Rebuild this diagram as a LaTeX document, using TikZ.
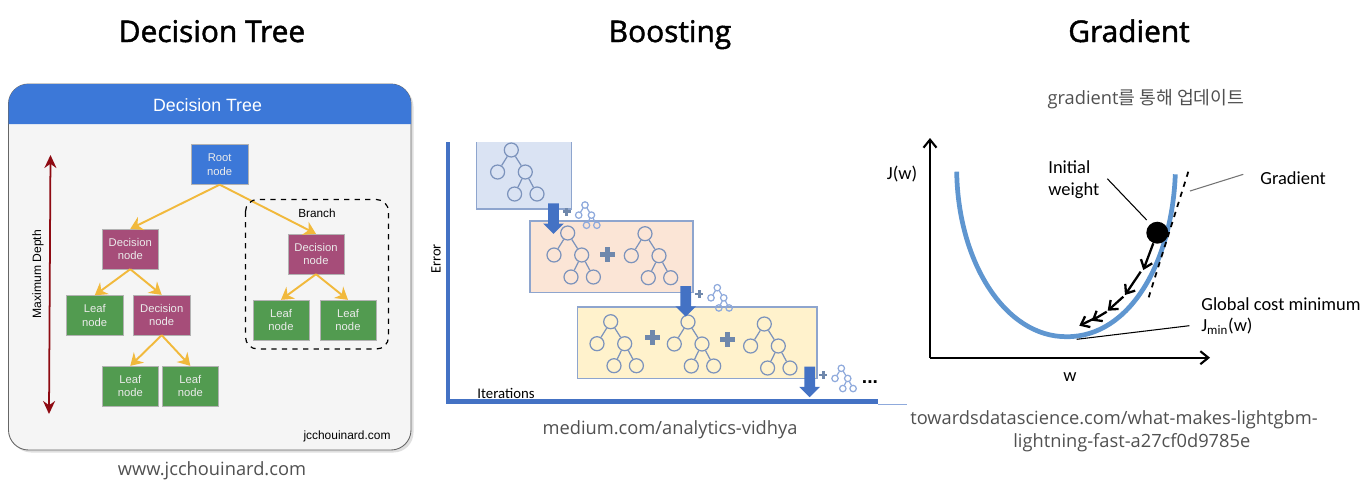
\documentclass[tikz,border=0pt]{standalone}
\usepackage{fontspec}
\setmainfont{Liberation Sans}
\newfontfamily\capfont{Open Sans}
\newfontfamily\titlefont[FakeBold=1.6]{Open Sans}
\newfontfamily\cjk{Noto Sans CJK KR}
\newfontfamily\labfont{Carlito}
\usetikzlibrary{arrows.meta,shapes.arrows,shadows}
\definecolor{headblue}{HTML}{3C78D8}
\definecolor{decpurple}{HTML}{A64D79}
\definecolor{leafgreen}{HTML}{529B50}
\definecolor{edgeorange}{HTML}{F1B93C}
\definecolor{depthred}{HTML}{8E0A12}
\definecolor{axisblue}{HTML}{4472C4}
\definecolor{curveblue}{HTML}{5F96D0}
\definecolor{plusgray}{HTML}{6F88AC}
\definecolor{treeline}{HTML}{7C93BC}
\definecolor{treelight}{HTML}{8FAADC}
\definecolor{capgray}{HTML}{505050}
\definecolor{boxblue}{HTML}{DAE3F3}
\definecolor{boxpeach}{HTML}{FBE5D6}
\definecolor{boxyellow}{HTML}{FFF2CC}
\definecolor{boxedge}{HTML}{8EA5CE}
\begin{document}
\begin{tikzpicture}[
  x=0.02cm, y=-0.02cm,
  title/.style={font=\titlefont\fontsize{17}{20}\selectfont, anchor=base},
  caption/.style={font=\capfont\fontsize{10.4}{13}\selectfont, text=capgray, inner sep=0pt},
  dtbox/.style={rectangle, inner sep=0pt, minimum width=1.13cm, minimum height=0.8cm, align=center, text=white!92!black, font=\fontsize{6.4}{7.8}\selectfont, draw=white!70!black, line width=0.2pt},
  root/.style={dtbox, fill=headblue},
  decision/.style={dtbox, fill=decpurple},
  leaf/.style={dtbox, fill=leafgreen},
  dtarrow/.style={-{Stealth[length=2.4mm,width=2.9mm]}, edgeorange, line width=1.1pt},
  treecirc/.style={circle, draw, inner sep=0pt, minimum size=0.28cm, line width=0.7pt, transform shape},
  dnarrow/.style={single arrow, single arrow head extend=0.1cm, single arrow tip angle=90, text height=0.2cm, text depth=0pt, text width=0pt, minimum height=0.61cm, inner sep=0pt, fill=axisblue, rotate=-90},
  glabel/.style={font=\labfont\fontsize{10.5}{12.2}\selectfont, align=left, inner sep=0pt},
  axis/.style={-{Straight Barb[length=1.6mm,width=2.6mm]}, line width=1.2pt},
  leader/.style={line width=0.6pt},
  stepdown/.style={-{Straight Barb[length=1.5mm,width=2.4mm]}, line width=1.3pt},
  pics/gbmtree/.style={code={
    \node[treecirc, draw=#1] (-r) at (0,0) {};
    \node[treecirc, draw=#1] (-a) at (-13.7,22) {};
    \node[treecirc, draw=#1] (-b) at (14,22) {};
    \node[treecirc, draw=#1] (-c) at (3.3,44) {};
    \node[treecirc, draw=#1] (-d) at (25.7,44) {};
    \draw[#1, line width=0.7pt] (-r) -- (-a);
    \draw[#1, line width=0.7pt] (-r) -- (-b);
    \draw[#1, line width=0.7pt] (-b) -- (-c);
    \draw[#1, line width=0.7pt] (-b) -- (-d);
  }},
  pics/gbmplus/.style={code={
    \fill[plusgray] (-7.5,-2.5) rectangle (7.5,2.5);
    \fill[plusgray] (-2.5,-7.5) rectangle (2.5,7.5);
  }},
]
\useasboundingbox (0,0) rectangle (1370,485);

% ══ Titles ══
\node[title] (ttree) at (212,42) {Decision Tree};
\node[title] (tboost) at (670,42) {Boosting};
\node[title] (tgrad) at (1129,42) {Gradient};

% ══ Decision tree panel ══
\draw[draw=black!60, fill=black!4, rounded corners=0.4cm, line width=0.5pt, drop shadow={shadow xshift=0.05cm, shadow yshift=-0.05cm, opacity=0.25}] (8.5,84) rectangle (411,450);
\fill[headblue] (8.5,124) [rounded corners=0.4cm] -- (8.5,84) -- (411,84) [sharp corners] -- (411,124) -- cycle;
\node[text=white, font=\fontsize{10.1}{12}\selectfont] (dthead) at (207.5,105) {Decision Tree};

\node[root] (rootn) at (219.7,164.5) {Root\\node};
\node[decision] (decl) at (130.3,249) {Decision\\node};
\node[decision] (decr) at (316,254) {Decision\\node};
\node[leaf] (leafa) at (94.7,315.5) {Leaf\\node};
\node[decision] (decm) at (161.7,315) {Decision\\node};
\node[leaf] (leafb) at (130.3,386) {Leaf\\node};
\node[leaf] (leafc) at (190.3,386) {Leaf\\node};
\node[leaf] (leafd) at (281,320) {Leaf\\node};
\node[leaf] (leafe) at (348,320) {Leaf\\node};

\draw[dtarrow] (rootn.south) -- (decl.north);
\draw[dtarrow] (rootn.south) -- (decr.north);
\draw[dtarrow] (decl.south) -- (leafa.north);
\draw[dtarrow] (decl.south) -- (decm.north);
\draw[dtarrow] (decm.south) -- (leafb.north);
\draw[dtarrow] (decm.south) -- (leafc.north);
\draw[dtarrow] (decr.south) -- (leafd.north);
\draw[dtarrow] (decr.south) -- (leafe.north);

% Branch box
\draw[dashed, line width=0.7pt, rounded corners=0.24cm] (245.5,199.5) rectangle (388.5,349);
\node[font=\fontsize{6.7}{8}\selectfont] (branch) at (317,213) {Branch};

% Depth arrow
\coordinate (dtop) at (50.5,155);
\coordinate (dbot) at (49,414);
\draw[{Stealth[length=2.6mm,width=2.4mm]}-{Stealth[length=2.6mm,width=2.4mm]}, depthred, line width=1pt] (dtop) -- (dbot);
\node[rotate=90, font=\fontsize{6.9}{8}\selectfont] (depth) at (38,274) {Maximum Depth};
\node[font=\fontsize{6.8}{8}\selectfont] (wmark) at (347,436) {jcchouinard.com};

\node[caption] (capa) at (212,471) {www.jcchouinard.com};

% ══ Boosting ══
\node[font=\labfont\fontsize{8.2}{9}\selectfont, rotate=90] (errl) at (436,259) {Error};
\node[font=\labfont\fontsize{8.4}{9}\selectfont] (iterl) at (506,393) {Iterations};

% Boxes
\fill[boxblue] (476.7,142) rectangle (571.3,209);
\draw[boxedge, line width=0.7pt] (476.7,142) -- (476.7,209) -- (571.3,209) -- (571.3,142);
\draw[boxedge, fill=boxpeach, line width=0.7pt] (530,221) rectangle (693,292.7);
\draw[boxedge, fill=boxyellow, line width=0.7pt] (577.3,307) rectangle (817,378.3);

% Axes
\coordinate (eorigin) at (448,401.5);
\coordinate (etop) at (448,142);
\coordinate (eright) at (878,401.5);
\coordinate (efar) at (907,404);
\draw[axisblue, line width=2.8pt] (etop) -- (eorigin) -- (eright);
\draw[treelight, line width=0.4pt] (eright |- efar) -- (efar);

% Trees inside the boxes
\pic (ta) at (511.3,150) {gbmtree=treeline};
\pic (tb) at (567.7,233) {gbmtree=treeline};
\pic at (607.3,254) {gbmplus};
\pic (tc) at (645,233.7) {gbmtree=treeline};
\pic (td) at (610.7,321.7) {gbmtree=treeline};
\pic at (652,337.7) {gbmplus};
\pic (te) at (688,322) {gbmtree=treeline};
\pic at (727.7,339) {gbmplus};
\pic (tf) at (764.3,324) {gbmtree=treeline};

% Small trees added at each step
\pic[scale=0.46] (sa) at (585,205) {gbmtree=treelight};
\pic[scale=0.53] at (566.7,211.7) {gbmplus};
\pic[scale=0.46] (sb) at (717.3,287.7) {gbmtree=treelight};
\pic[scale=0.53] at (699.3,294) {gbmplus};
\pic[scale=0.46] (sc) at (841.3,368.3) {gbmtree=treelight};
\pic[scale=0.53] at (823.3,375) {gbmplus};
\node[font=\bfseries\fontsize{11}{12}\selectfont] (more) at (870,382) {...};

% Block arrows
\node[dnarrow] (stepa) at (553.5,216) {};
\node[dnarrow] (stepb) at (685.7,298.7) {};
\node[dnarrow] (stepc) at (809.7,379.3) {};

\node[caption] (capb) at (670,430) {medium.com/analytics-vidhya};

% ══ Gradient ══
\node[caption] (gsub) at (1146,99) {gradient{\cjk 를 통해 업데이트}};

\coordinate (jorigin) at (930,357.7);
\coordinate (jtop) at (930,138);
\coordinate (jright) at (1210,357.7);
\draw[axis] (jorigin) -- (jtop);
\draw[axis] (jorigin) -- (jright);

\draw[curveblue, line width=2.7pt] (956.7,171.7) .. controls (958,262) and (1005,337) .. (1066.7,336.7) .. controls (1130,337) and (1172,262) .. (1175.3,174.3);

% Tangent and ball
\coordinate (tanga) at (1188.3,171.7);
\coordinate (tangb) at (1147.3,301.7);
\draw[dashed, line width=1pt] (tanga) -- (tangb);
\node[circle, fill=black, inner sep=0pt, minimum size=0.44cm] (ball) at (1157.3,232.7) {};

% Steps down the curve
\coordinate (ga) at (1153.3,243.3);
\coordinate (gb) at (1143.3,270);
\coordinate (gc) at (1140.7,271.7);
\coordinate (gd) at (1125,295);
\coordinate (ge) at (1123.3,296.7);
\coordinate (gf) at (1107.7,310.7);
\coordinate (gg) at (1106.7,311.7);
\coordinate (gh) at (1091.7,320.7);
\coordinate (gi) at (1096.7,317.3);
\coordinate (gj) at (1079.3,325.7);
\draw[stepdown] (ga) -- (gb);
\draw[stepdown] (gc) -- (gd);
\draw[stepdown] (ge) -- (gf);
\draw[stepdown] (gg) -- (gh);
\draw[stepdown] (gi) -- (gj);

% Labels and their leaders
\node[glabel] (jw) at (902,174.5) {J(w)};
\node[glabel, anchor=west] (initw) at (1048,179.5) {Initial\\weight};
\node[glabel, anchor=west] (gradl) at (1260,178) {Gradient};
\node[glabel, anchor=west] (globl) at (1201,304) {Global cost minimum};
\node[glabel, anchor=west] (jmin) at (1201,326) {J\textsubscript{min}(w)};
\node[glabel] (wlab) at (1070,377) {w};

\coordinate (lia) at (1107.3,178.7);
\coordinate (lib) at (1146.7,220);
\coordinate (lga) at (1190,191);
\coordinate (lgb) at (1243.3,174.3);
\coordinate (lma) at (1076.7,339.3);
\coordinate (lmb) at (1189.3,325.7);
\draw[leader] (lia) -- (lib);
\draw[leader, black!55] (lga) -- (lgb);
\draw[leader] (lma) -- (lmb);

\node[caption, anchor=west] (capc) at (910,420) {towardsdatascience.com/what-makes-lightgbm-};
\node[caption, anchor=west] (capd) at (1013,443) {lightning-fast-a27cf0d9785e};
\end{tikzpicture}
\end{document}
